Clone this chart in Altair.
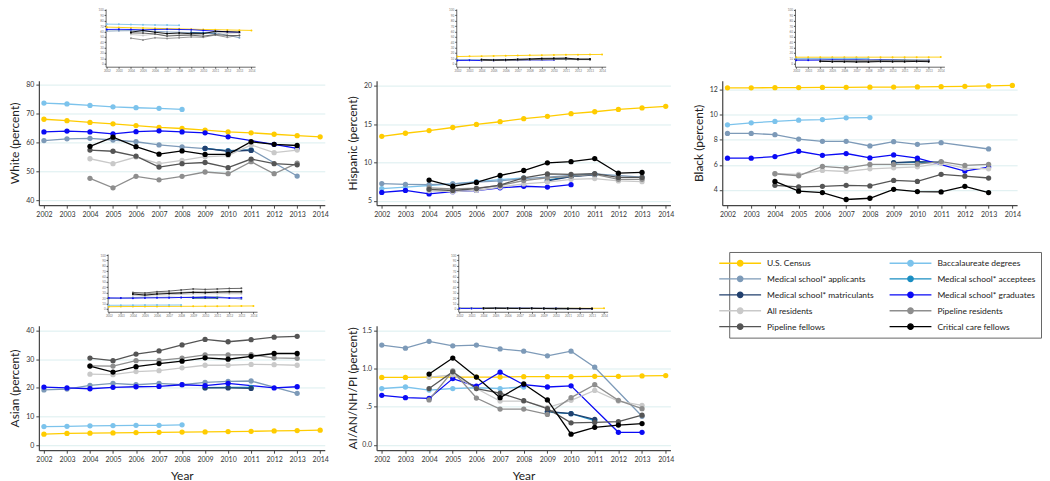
import altair as alt
import pandas as pd

N = None
YEARS = list(range(2002, 2015))

SERIES = ["U.S. Census", "Baccalaureate degrees", "Medical school* applicants",
          "Medical school* acceptees", "Medical school* matriculants",
          "Medical school* graduates", "All residents", "Pipeline residents",
          "Pipeline fellows", "Critical care fellows"]
COLORS = ["#FFCC00", "#7CC3EC", "#7D9AB8", "#1B8EC2", "#22406E",
          "#0A0AF5", "#C9C9C9", "#8E8E8E", "#555555", "#000000"]

WHITE = {
    "U.S. Census": [68.1, 67.6, 67.0, 66.5, 65.9, 65.3, 64.9, 64.3, 63.7, 63.4, 62.9, 62.4, 62.0],
    "Baccalaureate degrees": [73.7, 73.4, 72.9, 72.4, 72.1, 71.9, 71.5, N, N, N, N, N, N],
    "Medical school* applicants": [60.7, 61.3, 61.5, 60.9, 60.3, 59.2, 58.5, 57.9, 57.2, 57.6, N, 48.4, N],
    "Medical school* acceptees": [N, N, N, N, N, N, N, 58.0, 57.1, 57.4, N, N, N],
    "Medical school* matriculants": [N, N, N, N, N, N, N, 58.0, 57.0, 57.3, N, N, N],
    "Medical school* graduates": [63.7, 64.0, 63.7, 63.0, 63.8, 64.1, 63.7, 63.4, 62.0, N, 59.4, 58.0, N],
    "All residents": [N, N, 54.4, 52.7, 55.0, 52.7, 53.8, 55.1, 55.5, 59.2, 56.5, 57.4, N],
    "Pipeline residents": [N, N, 47.6, 44.3, 48.3, 47.1, 48.3, 49.8, 49.2, 53.4, 49.2, 52.9, N],
    "Pipeline fellows": [N, N, 57.4, 57.0, 55.3, 51.5, 52.7, 53.1, 51.3, 54.3, 52.7, 52.3, N],
    "Critical care fellows": [N, N, 58.7, 61.9, 58.6, 56.0, 57.1, 55.9, 55.9, 60.3, 59.4, 59.0, N],
}

HISPANIC = {
    "U.S. Census": [13.4, 13.8, 14.15, 14.55, 14.95, 15.3, 15.7, 16.0, 16.35, 16.6, 16.9, 17.1, 17.3],
    "Baccalaureate degrees": [6.6, 6.8, 7.0, 7.2, 7.5, 7.75, 8.0, N, N, N, N, N, N],
    "Medical school* applicants": [7.25, 7.15, 7.1, 7.2, 7.45, 7.6, 7.9, 8.1, 8.3, 8.5, N, 8.1, N],
    "Medical school* acceptees": [N, N, N, N, N, N, N, 7.7, 8.2, 8.45, N, N, N],
    "Medical school* matriculants": [N, N, N, N, N, N, N, 7.6, 8.15, 8.4, N, N, N],
    "Medical school* graduates": [6.1, 6.35, 5.9, 6.2, 6.35, 6.7, 6.9, 6.8, 7.1, N, N, N, N],
    "All residents": [N, N, 6.3, 6.2, 6.35, 6.8, 7.2, 7.45, 7.8, 7.9, 7.6, 7.5, N],
    "Pipeline residents": [N, N, 6.7, 6.55, 6.65, 7.0, 7.65, 8.0, 8.2, 8.45, 7.8, 7.8, N],
    "Pipeline fellows": [N, N, 6.5, 6.35, 6.6, 7.05, 8.0, 8.5, 8.45, 8.55, 8.05, 8.05, N],
    "Critical care fellows": [N, N, 7.7, 6.9, 7.4, 8.3, 8.95, 9.95, 10.1, 10.5, 8.6, 8.7, N],
}

BLACK = {
    "U.S. Census": [12.13, 12.13, 12.14, 12.15, 12.16, 12.17, 12.18, 12.19, 12.2, 12.22, 12.25, 12.28, 12.32],
    "Baccalaureate degrees": [9.18, 9.34, 9.45, 9.55, 9.6, 9.74, 9.76, N, N, N, N, N, N],
    "Medical school* applicants": [8.5, 8.5, 8.4, 8.05, 7.87, 7.87, 7.5, 7.84, 7.63, 7.76, N, 7.26, N],
    "Medical school* acceptees": [N, N, N, N, N, N, N, 6.15, 6.22, 6.2, N, N, N],
    "Medical school* matriculants": [N, N, N, N, N, N, N, 6.18, 6.25, 6.2, N, N, N],
    "Medical school* graduates": [6.53, 6.53, 6.66, 7.08, 6.76, 6.9, 6.55, 6.79, 6.53, N, 5.5, 5.82, N],
    "All residents": [N, N, 5.29, 5.24, 5.55, 5.47, 5.68, 5.76, 5.84, 6.13, 5.74, 5.68, N],
    "Pipeline residents": [N, N, 5.29, 5.13, 5.87, 5.74, 6.03, 6.03, 6.05, 6.26, 5.95, 6.03, N],
    "Pipeline fellows": [N, N, 4.37, 4.24, 4.29, 4.37, 4.32, 4.76, 4.68, 5.24, 5.1, 4.95, N],
    "Critical care fellows": [N, N, 4.68, 3.9, 3.79, 3.24, 3.34, 4.05, 3.87, 3.84, 4.29, 3.79, N],
}

ASIAN = {
    "U.S. Census": [3.85, 4.1, 4.2, 4.3, 4.4, 4.5, 4.6, 4.65, 4.75, 4.85, 5.0, 5.1, 5.25],
    "Baccalaureate degrees": [6.5, 6.6, 6.75, 6.85, 6.95, 6.95, 7.1, N, N, N, N, N, N],
    "Medical school* applicants": [19.3, 19.6, 20.9, 21.6, 21.1, 21.6, 21.1, 21.9, 22.3, 22.4, N, 18.1, N],
    "Medical school* acceptees": [N, N, N, N, N, N, N, 20.1, 20.2, 20.2, N, N, N],
    "Medical school* matriculants": [N, N, N, N, N, N, N, 20.0, 20.0, 19.8, N, N, N],
    "Medical school* graduates": [20.3, 20.0, 19.7, 20.2, 20.4, 20.5, 21.1, 20.8, 21.6, N, 20.0, 20.4, N],
    "All residents": [N, N, 24.8, 24.6, 25.7, 26.0, 27.0, 27.9, 27.9, 28.2, 28.1, 27.9, N],
    "Pipeline residents": [N, N, 27.7, 27.6, 29.5, 29.6, 30.4, 31.5, 31.5, 31.6, 30.5, 30.3, N],
    "Pipeline fellows": [N, N, 30.4, 29.5, 31.8, 32.9, 35.0, 36.9, 36.1, 36.8, 37.7, 38.0, N],
    "Critical care fellows": [N, N, 27.6, 25.5, 27.4, 28.5, 29.3, 30.5, 30.0, 31.0, 32.0, 32.0, N],
}

AIANNHPI = {
    "U.S. Census": [0.885, 0.885, 0.89, 0.89, 0.89, 0.89, 0.895, 0.895, 0.895, 0.9, 0.9, 0.905, 0.91],
    "Baccalaureate degrees": [0.74, 0.76, 0.72, 0.74, 0.75, 0.74, 0.76, N, N, N, N, N, N],
    "Medical school* applicants": [1.31, 1.27, 1.36, 1.30, 1.31, 1.26, 1.23, 1.17, 1.23, 1.02, N, 0.375, N],
    "Medical school* acceptees": [N, N, N, N, N, N, N, 0.43, 0.41, 0.32, N, N, N],
    "Medical school* matriculants": [N, N, N, N, N, N, N, 0.44, 0.41, 0.335, N, N, N],
    "Medical school* graduates": [0.65, 0.62, 0.61, 0.87, 0.77, 0.955, 0.79, 0.76, 0.775, N, 0.165, 0.165, N],
    "All residents": [N, N, 0.89, 0.92, 0.74, 0.575, 0.575, 0.49, 0.585, 0.715, 0.575, 0.52, N],
    "Pipeline residents": [N, N, 0.59, 0.97, 0.615, 0.47, 0.47, 0.4, 0.62, 0.79, 0.585, 0.475, N],
    "Pipeline fellows": [N, N, 0.74, 0.96, 0.74, 0.68, 0.58, 0.475, 0.29, 0.295, 0.305, 0.39, N],
    "Critical care fellows": [N, N, 0.93, 1.14, 0.89, 0.62, 0.80, 0.59, 0.14, 0.23, 0.26, 0.28, N],
}

LEGEND_PATH = "M-4.2,0H4.2M-0.55,0A0.55,0.55,0,1,1,0.55,0A0.55,0.55,0,1,1,-0.55,0Z"


def long_df(data):
    rows = []
    for i, s in enumerate(SERIES):
        for y, v in zip(YEARS, data[s]):
            if v is not None:
                rows.append({"series": s, "year": y, "value": v, "ord": i})
    return pd.DataFrame(rows)


COLOR = alt.Color("series:N", scale=alt.Scale(domain=SERIES, range=COLORS),
                  legend=alt.Legend(title=None, symbolType=LEGEND_PATH, direction="horizontal"))


def main_panel(data, ytitle, ydom, yticks, width, xtitle=None, label_expr=None):
    df = long_df(data)
    ykw = dict(values=yticks, title=ytitle, titleX=-17, titleFontSize=12, grid=True,
               gridColor="#dbeeef", tickSize=3, labelFontSize=7, labelPadding=2)
    if label_expr:
        ykw["labelExpr"] = label_expr
    xkw = dict(values=YEARS, format="d", grid=False, tickSize=3, labelFontSize=7,
               labelPadding=2, labelFlush=False, labelOverlap=False)
    if xtitle:
        xkw.update(title=xtitle, titleFontSize=12, titlePadding=8)
    else:
        xkw["title"] = None
    x = alt.X("year:Q", scale=alt.Scale(domain=[2001.78, 2014.2], nice=False, zero=False),
              axis=alt.Axis(**xkw))
    y = alt.Y("value:Q", scale=alt.Scale(domain=ydom, nice=False, zero=False),
              axis=alt.Axis(**ykw))
    base = alt.Chart(df)
    lines = base.mark_line(strokeWidth=1.3).encode(x=x, y=y, color=COLOR,
                                                   order=alt.Order("year:Q"))
    pts = base.mark_point(filled=True, size=28, opacity=1).encode(x=x, y=y, color=COLOR)
    return alt.layer(lines, pts).properties(width=width, height=125)


def inset_panel(data, width, a, height=58):
    df = long_df(data)
    x = alt.X("year:Q",
              scale=alt.Scale(domain=[2001.9, 2014.3], range=[a, a + 150], nice=False, zero=False),
              axis=alt.Axis(values=YEARS, format="d", title=None, grid=False, tickSize=1.5,
                            labelFontSize=3, labelPadding=1, domainWidth=0.8,
                            labelFlush=False, labelOverlap=False, labelColor="#777"))
    y = alt.Y("value:Q", scale=alt.Scale(domain=[-5.5, 102], nice=False, zero=False),
              axis=alt.Axis(values=list(range(0, 101, 10)), title=None, grid=False, offset=-a,
                            tickSize=1.5, labelFontSize=3, labelPadding=1, domainWidth=0.8,
                            labelColor="#777"))
    base = alt.Chart(df)
    lines = base.mark_line(strokeWidth=0.9).encode(x=x, y=y, color=COLOR)
    pts = base.mark_point(filled=True, size=4, opacity=1).encode(x=x, y=y, color=COLOR)
    return alt.layer(lines, pts).properties(width=width, height=height)


SPACER_DF = pd.DataFrame({"a": [0]})


def spacer(height):
    return alt.Chart(SPACER_DF).mark_point(opacity=0).encode(
        x=alt.X("a:Q", axis=None), y=alt.Y("a:Q", axis=None)
    ).properties(width=1, height=height)


W1, W2, W3 = 287, 295, 296

chart = alt.concat(
    inset_panel(WHITE, W1, 67),
    inset_panel(HISPANIC, W2, 80),
    inset_panel(BLACK, W3, 73),
    main_panel(WHITE, "White (percent)", [38.3, 81.5], [40, 50, 60, 70, 80], W1),
    main_panel(HISPANIC, "Hispanic (percent)", [4.44, 20.65], [5, 10, 15, 20], W2),
    main_panel(BLACK, "Black (percent)", [2.79, 12.7], [4, 6, 8, 10, 12], W3),
    spacer(21), spacer(21), spacer(21),
    inset_panel(ASIAN, W1, 69),
    inset_panel(AIANNHPI, W2, 82),
    spacer(1),
    main_panel(ASIAN, "Asian (percent)", [-1.74, 41.7], [0, 10, 20, 30, 40], W1, xtitle="Year"),
    main_panel(AIANNHPI, "AI/AN/NH/PI (percent)", [-0.07, 1.565], [0, 0.5, 1, 1.5], W2,
               xtitle="Year", label_expr="datum.value == 0.5 ? '.5' : datum.label"),
    columns=3, spacing={"row": 14, "column": 52}, bounds="flush", align="each",
    padding={"left": 1, "top": 0, "right": 0, "bottom": 0},
).configure(
    font="Lato"
).configure_axis(
    domainColor="#444", tickColor="#444", labelColor="#333", titleColor="#222",
    titleFontWeight="normal", titleFontSize=11, domainWidth=1.2
).configure_view(
    stroke=None
).configure_legend(
    orient="none", legendX=693, legendY=244, columns=2, symbolSize=100,
    symbolStrokeWidth=1.3, labelFontSize=8.5, labelOffset=21, columnPadding=12,
    rowPadding=4, padding=5, strokeColor="#666", fillColor="#ffffff", labelColor="#222"
)

chart.save("out.html", embed_options={"renderer": "svg", "actions": False})
